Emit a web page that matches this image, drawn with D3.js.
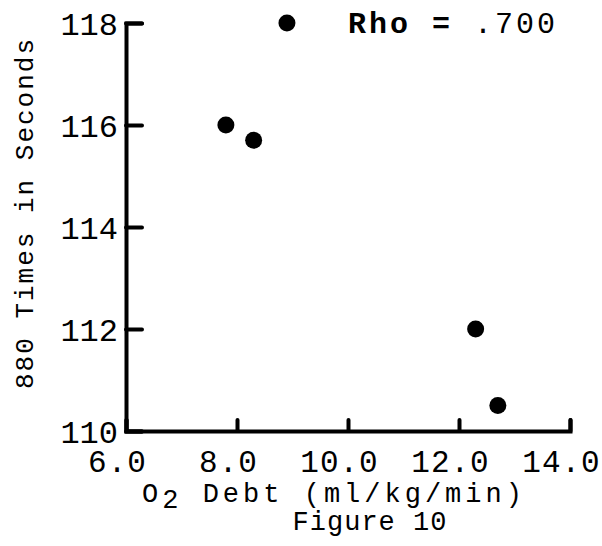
<!DOCTYPE html>
<html>
<head>
<meta charset="utf-8">
<script src="https://cdn.jsdelivr.net/npm/d3@7"></script>
<style>
  html, body { margin: 0; padding: 0; background: #fff; }
  svg { display: block; }
  text { font-family: "Liberation Mono", "DejaVu Sans Mono", monospace; fill: #000; }
</style>
</head>
<body>
<svg id="chart" width="602" height="546"></svg>
<script>
// O2 debt (ml/kg/min) against 880 run time (seconds)
const o2Debt = [8.9, 7.8, 8.3, 12.3, 12.7];
const runTime = [118.0, 116.0, 115.7, 112.0, 110.5];
const xTicks = [6, 8, 10, 12, 14];
const yTicks = [110, 112, 114, 116, 118];
const rhoLabel = ".700";

const svg = d3.select("#chart");

const x = d3.scaleLinear().domain([6, 14]).range([126, 570]);
const y = d3.scaleLinear().domain([110, 118]).range([431, 23]);

// y axis with inward ticks
const yAxis = svg.append("g")
  .attr("transform", `translate(${x(6)},0)`)
  .call(d3.axisLeft(y).tickValues(yTicks).tickSize(-16).tickPadding(24).tickFormat(d3.format("d")));

// x axis with upward ticks
const xAxis = svg.append("g")
  .attr("transform", `translate(0,${y(110)})`)
  .call(d3.axisBottom(x).tickValues(xTicks).tickSize(-11).tickPadding(22).tickFormat(d3.format(".1f")));

[yAxis, xAxis].forEach(g => {
  g.select(".domain").attr("stroke", "#000").attr("stroke-width", 4).attr("stroke-linecap", "round");
  g.selectAll(".tick line").attr("stroke", "#000").attr("stroke-width", 4).attr("stroke-linecap", "round");
  g.selectAll(".tick text").attr("fill", "#000").style("font-family", "'Liberation Mono', monospace");
});
yAxis.selectAll(".tick text").style("font-size", "32px").attr("dx", "16px").attr("dy", "0.36em");
xAxis.selectAll(".tick text").style("font-size", "31px").style("letter-spacing", "1px")
  .attr("dx", "-9px").attr("dy", "0.6em");

// data points
svg.append("g").selectAll("circle")
  .data(o2Debt.map((d, i) => [d, runTime[i]]))
  .join("circle")
  .attr("cx", d => x(d[0]))
  .attr("cy", d => y(d[1]))
  .attr("r", 8.5)
  .attr("fill", "#000");

// correlation note
const rho = svg.append("text")
  .attr("x", 348)
  .attr("y", 33)
  .style("font-size", "30px")
  .style("letter-spacing", "3px");
rho.append("tspan").attr("font-weight", "bold").text("Rho = ");
rho.append("tspan").text(rhoLabel);

// x axis title with subscript
const xt = svg.append("text")
  .attr("x", 334)
  .attr("y", 502)
  .attr("text-anchor", "middle")
  .style("font-size", "27px")
  .style("letter-spacing", "4px");
xt.append("tspan").text("O");
xt.append("tspan").attr("dy", 6).text("2");
xt.append("tspan").attr("dy", -6).text(" Debt (ml/kg/min)");

svg.append("text")
  .attr("x", 370)
  .attr("y", 530)
  .attr("text-anchor", "middle")
  .style("font-size", "27px")
  .style("letter-spacing", "1px")
  .text("Figure 10");

// y axis title
svg.append("text")
  .attr("transform", "translate(33,213) rotate(-90)")
  .attr("text-anchor", "middle")
  .style("font-size", "26px")
  .style("letter-spacing", "2px")
  .text("880 Times in Seconds");
</script>
</body>
</html>
